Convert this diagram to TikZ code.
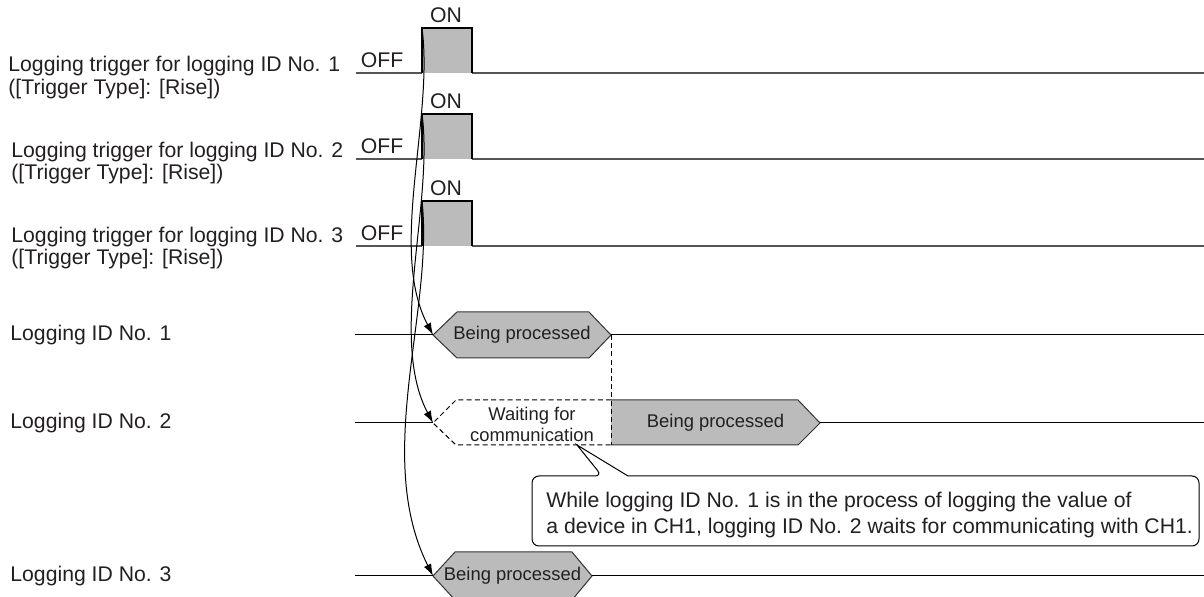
\documentclass[tikz,border=0pt]{standalone}
\usepackage{fontspec}
\setmainfont{Liberation Sans}
\usepackage{tikz}
\usetikzlibrary{arrows.meta, positioning, calc}

\definecolor{ink}{RGB}{35,31,32}
\definecolor{busygray}{RGB}{187,187,187}
\definecolor{railgray}{RGB}{85,85,85}

\begin{document}
\begin{tikzpicture}[
  x=0.5pt, y=-0.5pt,
  every node/.style={font=\fontsize{10.6}{10.6}\selectfont, text=ink, inner sep=0pt},
  trigtext/.style={anchor=north west, align=left, font=\fontsize{10.6}{11.2}\selectfont},
  levtext/.style={anchor=base},
  rail/.style={draw=railgray, line width=1pt},
  pulse/.style={draw=black, line width=0.65pt, fill=busygray},
  idline/.style={draw=black, line width=0.5pt},
  busy/.style={draw=black!80, line width=0.5pt, fill=busygray},
  waiting/.style={draw=black, line width=0.5pt, dash pattern=on 2.5pt off 1.6pt},
  small/.style={font=\fontsize{9.2}{10.5}\selectfont, align=center},
  note/.style={anchor=north west, align=left, font=\fontsize{10.6}{13}\selectfont},
  callout/.style={draw=black, line width=0.5pt, fill=white},
  line/.style={-{Latex[length=6pt, width=4pt]}, black, line width=0.5pt}
]
\useasboundingbox (0,0) rectangle (1204,597);

% triggers
\node[trigtext] (trig1) at (8,56) {Logging trigger for logging ID No. 1\\([Trigger Type]: [Rise])};
\node[trigtext] (trig2) at (11,141.5) {Logging trigger for logging ID No. 2\\([Trigger Type]: [Rise])};
\node[trigtext] (trig3) at (11,226.5) {Logging trigger for logging ID No. 3\\([Trigger Type]: [Rise])};

\draw[rail] (356,73) -- (422,73) (472,73) -- (1204,73);
\draw[pulse] (422,73) -- (422,28) coordinate (rise1) -- (472,28) -- (472,73);
\node[levtext] (off1) at (382,68) {OFF};
\node[levtext] (on1) at (446,23) {ON};

\draw[rail] (356,159) -- (422,159) (472,159) -- (1204,159);
\draw[pulse] (422,159) -- (422,114) coordinate (rise2) -- (472,114) -- (472,159);
\node[levtext] (off2) at (382,154) {OFF};
\node[levtext] (on2) at (446,109) {ON};

\draw[rail] (356,246) -- (422,246) (472,246) -- (1204,246);
\draw[pulse] (422,246) -- (422,201) coordinate (rise3) -- (472,201) -- (472,246);
\node[levtext] (off3) at (382,241) {OFF};
\node[levtext] (on3) at (446,196) {ON};

% logging IDs
\node[anchor=west] (id1) at (10,335) {Logging ID No. 1};
\node[anchor=west] (id2) at (10,423) {Logging ID No. 2};
\node[anchor=west] (id3) at (10,576) {Logging ID No. 3};

\draw[busy] (433,335) coordinate (busy1in) -- (457,312) -- (589,312) -- (611,335) coordinate (busy1out) -- (589,358) -- (457,358) -- cycle;
\node[small] (busy1) at (522,335) {Being processed};
\draw[idline] (355,335) -- (busy1in) (busy1out) -- (1204,335);

\draw[busy] (611,400) -- (798,400) -- (820,423) coordinate (busy2out) -- (798,445) -- (611,445);
\node[small] (busy2) at (715.5,423) {Being processed};
\draw[waiting] (611,400) -- (456,400) -- (433,423) coordinate (wait2in) -- (456,445) -- (611,445);
\draw[waiting] (busy1out) -- (611,445);
\node[small] (wait2) at (532,424) {Waiting for\\communication};
\draw[idline] (355,423) -- (wait2in) (busy2out) -- (1204,423);

\draw[busy] (433,576) coordinate (busy3in) -- (455,552) -- (572,552) -- (592,576) coordinate (busy3out) -- (572,600) -- (455,600) -- cycle;
\node[small] (busy3) at (512.5,576) {Being processed};
\draw[idline] (355,576) -- (busy3in) (busy3out) -- (1204,576);

% trigger -> start of logging
\draw[line] (rise1) .. controls +(12,92) and +(-45,-85) .. (busy1in);
\draw[line] (rise2) .. controls +(12,90) and +(-45,-85) .. (wait2in);
\draw[line] (rise3) .. controls +(12,110) and +(-60,-120) .. (busy3in);

% callout
\coordinate (waitpt) at (577,445);
\draw[callout] (602,476) -- (waitpt) -- (628,476) [rounded corners=3.5pt] -- (1199,476) -- (1199,546) -- (532,546) -- (532,476) -- cycle;
\node[note] (note) at (546,491.5) {While logging ID No. 1 is in the process of logging the value of\\a device in CH1, logging ID No. 2 waits for communicating with CH1.};
\end{tikzpicture}
\end{document}
